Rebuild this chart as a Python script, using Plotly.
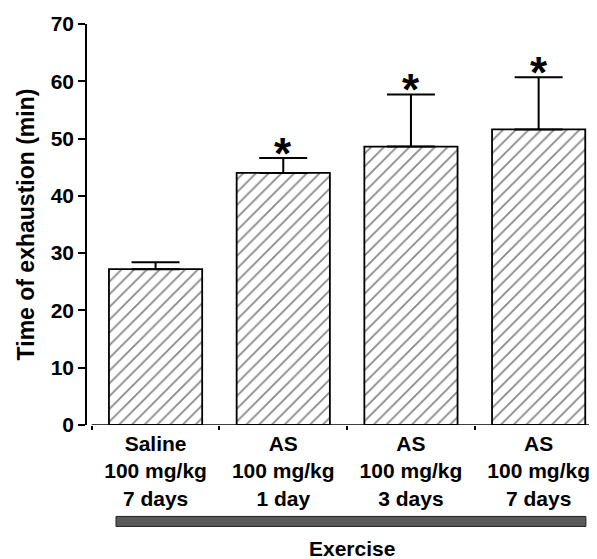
import plotly.graph_objects as go

categories = ["Saline<br>100 mg/kg<br>7 days", "AS<br>100 mg/kg<br>1 day",
              "AS<br>100 mg/kg<br>3 days", "AS<br>100 mg/kg<br>7 days"]
means = [27.2, 44.0, 48.6, 51.6]
sem_plus = [1.2, 2.6, 9.1, 9.1]
significant = [False, True, True, True]
y_ticks = [0, 10, 20, 30, 40, 50, 60, 70]
y_title = "Time of exhaustion (min)"
group_label = "Exercise"

FONT = "Liberation Sans"
OFF = 8  # page body margin offset

fig = go.Figure()
fig.add_trace(go.Bar(
    x=categories, y=means,
    marker=dict(color="white",
                line=dict(color="black", width=1.8),
                pattern=dict(shape="/", size=9, solidity=0.2, fgcolor="#111", bgcolor="white")),
    error_y=dict(type="data", array=sem_plus, arrayminus=[0]*len(means), symmetric=False,
                 color="black", thickness=2, width=24),
    width=0.73,
))

for c, m, e, s in zip(categories, means, sem_plus, significant):
    if s:
        fig.add_annotation(x=c, y=m + e, text="<b>*</b>", showarrow=False, yanchor="bottom",
                           yshift=-22, font=dict(family=FONT, size=44, color="black"))

# x-axis baseline and the Exercise bar
fig.add_shape(type="line", xref="x", yref="y", x0=-0.5, x1=3.6, y0=0, y1=0,
              line=dict(color="black", width=1.5))
fig.add_shape(type="rect", xref="x", yref="paper", x0=-0.31, x1=3.37, y0=-0.253, y1=-0.228,
              fillcolor="#5a5a5a", line=dict(color="#222", width=1))
fig.add_annotation(x=0.52, xref="paper", y=-0.309, yref="paper", text="<b>%s</b>" % group_label,
                   showarrow=False, xanchor="center", yanchor="middle",
                   font=dict(family=FONT, size=21, color="black"))

fig.update_layout(
    width=597 - OFF, height=559 - OFF,
    margin=dict(l=87 - OFF, r=0, t=24 - OFF, b=134),
    plot_bgcolor="white", paper_bgcolor="white",
    showlegend=False,
    font=dict(family=FONT, color="black"),
    xaxis=dict(type="category", range=[-0.537, 3.457], showline=False, showgrid=False,
               zeroline=False, ticks="outside", tickson="boundaries", ticklen=4,
               tickcolor="black", tickwidth=1.5, automargin=False,
               tickvals=categories, ticktext=["<b>%s</b>" % c for c in categories],
               tickfont=dict(family=FONT, size=21, color="black"), ticklabelstandoff=4),
    yaxis=dict(range=[0, 70], tickvals=y_ticks, ticktext=["<b>%d</b>" % t for t in y_ticks],
               showline=True, linecolor="black", linewidth=1.5, showgrid=False, zeroline=False,
               ticks="outside", ticklen=7, tickcolor="black", tickwidth=1.5, automargin=False,
               tickfont=dict(family=FONT, size=21, color="black"),
               title=dict(text="<b>%s</b>" % y_title, font=dict(family=FONT, size=23, color="black"),
                          standoff=10)),
)

fig.write_html("out.html")
